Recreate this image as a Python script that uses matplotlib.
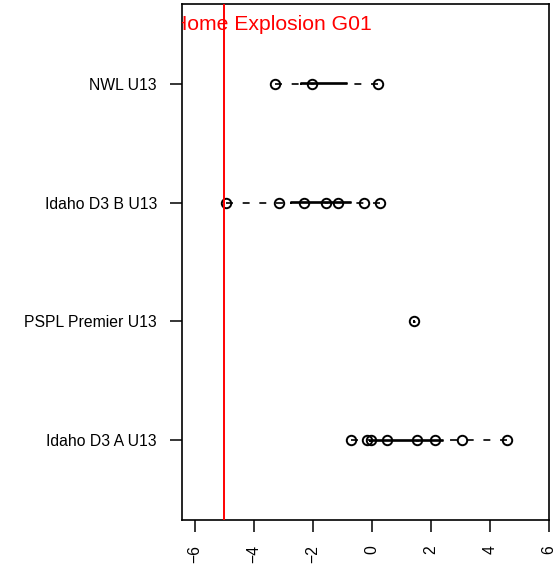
import matplotlib
matplotlib.use("Agg")
import matplotlib.pyplot as plt

plt.rcParams['font.family'] = ['Liberation Sans', 'DejaVu Sans']

# groups from bottom to top
teams = ['Idaho D3 A U13', 'PSPL Premier U13', 'Idaho D3 B U13', 'NWL U13']

# box statistics
whislo = [-0.72, 1.43, -4.96, -3.30]
q1 = [-0.08, 1.43, -2.75, -2.40]
med = [1.52, 1.43, -1.57, -2.04]
q3 = [2.42, 1.43, -0.70, -0.85]
whishi = [4.59, 1.43, 0.28, 0.20]

# individual results
pts_a = [-0.72, -0.18, -0.05, 0.50, 1.52, 2.15, 3.04, 4.59]
pts_pspl = [1.43]
pts_b = [-4.96, -3.15, -2.30, -1.57, -1.16, -0.26, 0.28]
pts_nwl = [-3.30, -2.04, 0.20]
points = [pts_a, pts_pspl, pts_b, pts_nwl]

ref_x = -5
title = 'Home Explosion G01'

fig = plt.figure(figsize=(5.57, 5.64), dpi=100)
ax = fig.add_axes([182/557, 1 - 520/564, 367/557, 516/564])

stats = []
for i in range(len(teams)):
    stats.append(dict(whislo=whislo[i], q1=q1[i], med=med[i], q3=q3[i],
                      whishi=whishi[i], fliers=[]))

bp = ax.bxp(stats, positions=range(1, len(teams) + 1), widths=0.01,
            orientation='horizontal', showcaps=False, showfliers=False,
            boxprops=dict(color='black', lw=1.2),
            medianprops=dict(color='black', lw=2.2),
            whiskerprops=dict(color='black', lw=1.2,
                              linestyle=(0, (5 / 1.2, 7 / 1.2))))
# R starts the dash pattern at the outer end of the whisker
for w in bp['whiskers']:
    w.set_xdata(w.get_xdata()[::-1])
    w.set_ydata(w.get_ydata()[::-1])

for i, p in enumerate(points):
    ax.plot(p, [i + 1] * len(p), 'o', ms=6.8, mew=1.4, mfc='none',
            mec='black', zorder=4)

ax.axvline(ref_x, color='red', lw=1.4, zorder=5)
ax.text(0, 4.45, title, color='red', fontsize=15.2, ha='right',
        va='baseline', clip_on=True)

ax.set_xlim(-6.44, 6.0)
ax.set_ylim(0.328, 4.672)
ax.set_xticks(range(-6, 7, 2))
ax.set_yticks(range(1, len(teams) + 1))
ax.set_yticklabels(teams)
ax.tick_params(axis='both', length=8.6, width=1.1, pad=9.4, labelsize=11.3)
ax.tick_params(axis='x', labelrotation=90)
for s in ax.spines.values():
    s.set_linewidth(1.2)

fig.savefig('out.png', dpi=100)
